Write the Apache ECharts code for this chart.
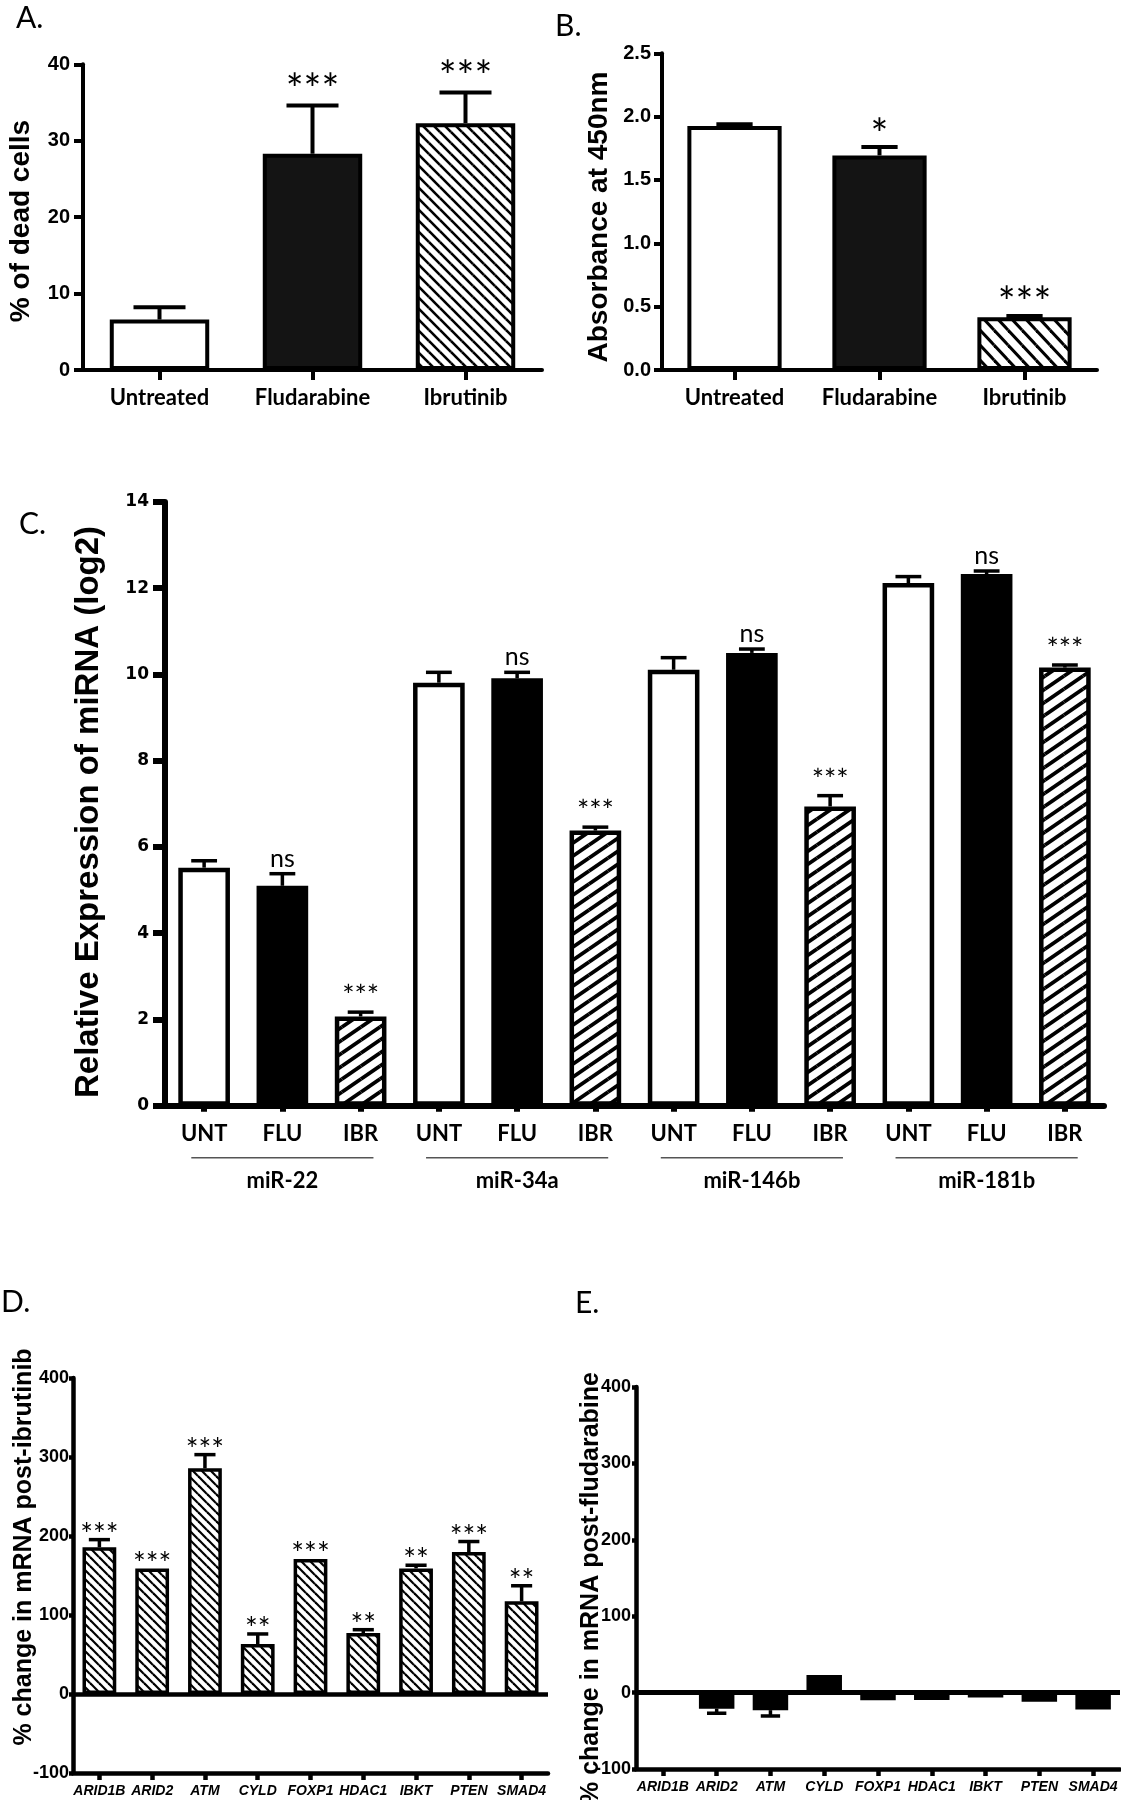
<!DOCTYPE html>
<html>
<head>
<meta charset="utf-8">
<script src="https://cdn.jsdelivr.net/npm/echarts/dist/echarts.min.js"></script>
<style>
html,body{margin:0;padding:0;background:#fff;}
#chart{width:1121px;height:1800px;}
</style>
</head>
<body>
<div id="chart"></div>
<script>
// ---------------- DATA ----------------
// Panel A – % of dead cells
const treatmentsAB = ['Untreated', 'Fludarabine', 'Ibrutinib'];
const deadCells = [6.6, 28.3, 32.3];
const deadCellsErrTop = [8.2, 34.6, 36.3];
const deadCellsSig = ['', '***', '***'];

// Panel B – absorbance at 450 nm
const absorbance = [1.926, 1.694, 0.416];
const absorbanceErrTop = [1.939, 1.76, 0.426];
const absorbanceSig = ['', '*', '***'];
const absorbanceTicks = ['0.0', '0.5', '1.0', '1.5', '2.0', '2.5'];

// Panel C – relative miRNA expression (log2)
const mirnas = ['miR-22', 'miR-34a', 'miR-146b', 'miR-181b'];
const treatmentsC = ['UNT', 'FLU', 'IBR'];
const mirUNT = [5.52, 9.81, 10.11, 12.12];
const mirUNTErrTop = [5.68, 10.05, 10.39, 12.27];
const mirFLU = [5.10, 9.91, 10.50, 12.33];
const mirFLUErrTop = [5.38, 10.05, 10.59, 12.40];
const mirIBR = [2.07, 6.38, 6.94, 10.16];
const mirIBRErrTop = [2.17, 6.46, 7.19, 10.22];
const mirUNTSig = ['', '', '', ''];
const mirFLUSig = ['ns', 'ns', 'ns', 'ns'];
const mirIBRSig = ['***', '***', '***', '***'];

// Panel D – % change in mRNA post-ibrutinib
const genes = ['ARID1B', 'ARID2', 'ATM', 'CYLD', 'FOXP1', 'HDAC1', 'IBKT', 'PTEN', 'SMAD4'];
const ibrChange = [185.7, 159, 285.7, 63.3, 170.9, 77.2, 159, 179.7, 117.3];
const ibrChangeErrEnd = [195.4, 159, 303, 76, 171, 81.4, 163, 193, 137];
const ibrChangeSig = ['***', '***', '***', '**', '***', '**', '**', '***', '**'];

// Panel E – % change in mRNA post-fludarabine
const fluChange = [0, -21, -23, 23, -10, -9.6, -6.5, -12, -22];
const fluChangeErrEnd = [0, -27, -30.6, 23, -10, -9.6, -6.5, -12, -22];
const fluChangeSig = ['', '', '', '', '', '', '', '', ''];

// ---------------- STYLE HELPERS ----------------
const LATO = 'Lato, "Open Sans", sans-serif';
const SANS = '"Liberation Sans", Arial, sans-serif';
const NARROW = '"Liberation Sans Narrow", "Liberation Sans", Arial, sans-serif';

function hatchCanvas(w, h, lw, dir) {
  const c = document.createElement('canvas');
  c.width = w; c.height = h;
  const ctx = c.getContext('2d');
  ctx.fillStyle = '#fff';
  ctx.fillRect(0, 0, w, h);
  ctx.strokeStyle = '#000';
  ctx.lineWidth = lw;
  for (let dx = -1; dx <= 1; dx++) {
    for (let dy = -1; dy <= 1; dy++) {
      ctx.beginPath();
      if (dir === 'back') {
        ctx.moveTo(dx * w, dy * h);
        ctx.lineTo(dx * w + w, dy * h + h);
      } else {
        ctx.moveTo(dx * w, dy * h + h);
        ctx.lineTo(dx * w + w, dy * h);
      }
      ctx.stroke();
    }
  }
  return c;
}
const hatchA = { image: hatchCanvas(11, 11, 2.6, 'back'), repeat: 'repeat' };
const hatchB = { image: hatchCanvas(14, 15, 3, 'back'), repeat: 'repeat' };
const hatchC = { image: hatchCanvas(19, 13, 3.8, 'fwd'), repeat: 'repeat' };
const hatchD = { image: hatchCanvas(9, 9, 2.2, 'back'), repeat: 'repeat' };

function errorRenderer(sigs, cfg) {
  return function (params, api) {
    const x = api.value(0), v = api.value(1), e = api.value(2);
    const p0 = api.coord([x, v]);
    const p1 = api.coord([x, e]);
    const band = api.size([1, 0])[0];
    const cap = band * cfg.capFrac;
    const children = [];
    if (Math.abs(p1[1] - p0[1]) > 0.5) {
      children.push({ type: 'line', shape: { x1: p0[0], y1: p0[1], x2: p1[0], y2: p1[1] },
        style: { stroke: '#000', lineWidth: cfg.lw } });
      children.push({ type: 'line', shape: { x1: p1[0] - cap / 2, y1: p1[1], x2: p1[0] + cap / 2, y2: p1[1] },
        style: { stroke: '#000', lineWidth: cfg.lw } });
    }
    const s = sigs[params.dataIndex];
    if (s) {
      const top = Math.min(p0[1], p1[1]);
      const isNs = s === 'ns';
      const gap = isNs ? cfg.nsGap : (s.length === 1 && cfg.gap1 !== undefined ? cfg.gap1 : cfg.gap);
      children.push({ type: 'text', x: p1[0], y: top - gap,
        style: { text: s, align: 'center', verticalAlign: 'middle', textAlign: 'center', textVerticalAlign: 'middle',
          font: isNs ? cfg.nsFont : cfg.font, fill: '#000' } });
    }
    return { type: 'group', children: children };
  };
}

// ---------------- BUILD C ARRAYS ----------------
const cCats = [], cVals = [], cErr = [], cSig = [], cFillIdx = [];
mirnas.forEach((m, i) => {
  treatmentsC.forEach((t, j) => {
    cCats.push(t + '|' + m);
    cVals.push([mirUNT, mirFLU, mirIBR][j][i]);
    cErr.push([mirUNTErrTop, mirFLUErrTop, mirIBRErrTop][j][i]);
    cSig.push([mirUNTSig, mirFLUSig, mirIBRSig][j][i]);
    cFillIdx.push(j);
  });
});

const fillsA = [{ color: '#fff' }, { color: '#141414' }, { color: hatchA }];
const fillsB = [{ color: '#fff' }, { color: '#141414' }, { color: hatchB }];
const fillsC = [{ color: '#fff' }, { color: '#000' }, { color: hatchC }];

function valueAxis(grid, min, max, interval, opts) {
  return {
    type: 'value', gridIndex: grid, min: min, max: max, interval: interval,
    splitLine: { show: false },
    axisLine: { show: true, onZero: false, lineStyle: { color: '#000', width: opts.lw } },
    axisTick: { show: true, length: opts.tick, lineStyle: { color: '#000', width: opts.lw } },
    axisLabel: { show: true, margin: opts.margin, color: '#000', fontFamily: opts.family, fontWeight: 'bold', fontSize: opts.size,
      formatter: opts.formatter }
  };
}
function catAxis(grid, data, opts) {
  return {
    type: 'category', gridIndex: grid, data: data,
    axisLine: { show: true, onZero: opts.onZero !== undefined ? opts.onZero : true, lineStyle: { color: '#000', width: opts.lw } },
    axisTick: { show: true, alignWithLabel: true, length: opts.tick, lineStyle: { color: '#000', width: opts.lw } },
    axisLabel: { show: true, interval: 0, margin: opts.margin, color: '#000', fontFamily: opts.family, fontWeight: 'bold',
      fontStyle: opts.italic ? 'italic' : 'normal', fontSize: opts.size, formatter: opts.formatter },
    splitLine: { show: false }
  };
}

const chart = echarts.init(document.getElementById('chart'), null, { renderer: 'canvas', width: 1121, height: 1800 });

const titleStyle = (text, font) => ({ text: text, font: font, fill: '#000', align: 'center', verticalAlign: 'middle',
  textAlign: 'center', textVerticalAlign: 'middle' });
const letterStyle = (text) => ({ text: text, font: '30px ' + LATO, fill: '#000', verticalAlign: 'middle', textVerticalAlign: 'middle' });

const option = {
  animation: false,
  backgroundColor: '#fff',
  grid: [
    { left: 83, top: 64.3, width: 459, height: 305.7, outerBoundsMode: 'none', containLabel: false },
    { left: 662, top: 53.3, width: 435, height: 316.7, outerBoundsMode: 'none', containLabel: false },
    { left: 165, top: 502, width: 939, height: 603.7, outerBoundsMode: 'none', containLabel: false },
    { left: 73, top: 1378, width: 475, height: 395, outerBoundsMode: 'none', containLabel: false },
    { left: 636, top: 1387, width: 484, height: 382, outerBoundsMode: 'none', containLabel: false }
  ],
  xAxis: [
    catAxis(0, treatmentsAB, { lw: 4, tick: 10, margin: 17, family: LATO, size: 22 }),
    catAxis(1, treatmentsAB, { lw: 4, tick: 10, margin: 17, family: LATO, size: 22 }),
    catAxis(2, cCats, { lw: 6, tick: 6, margin: 17, family: LATO, size: 22, formatter: v => v.split('|')[0] }),
    { type: 'category', gridIndex: 2, data: mirnas, show: false },
    catAxis(3, genes, { lw: 4.5, tick: 7, margin: 11, family: NARROW, size: 14, italic: true, onZero: false }),
    catAxis(4, genes, { lw: 4.5, tick: 7, margin: 11, family: NARROW, size: 14, italic: true, onZero: false })
  ],
  yAxis: [
    valueAxis(0, 0, 40, 10, { lw: 4, tick: 9, margin: 13, family: SANS, size: 20 }),
    valueAxis(1, 0, 2.5, 0.5, { lw: 4, tick: 8, margin: 11, family: SANS, size: 20,
      formatter: v => absorbanceTicks[Math.round(v / 0.5)] }),
    valueAxis(2, 0, 14, 2, { lw: 6, tick: 12, margin: 16, family: '"DejaVu Sans", sans-serif', size: 17 }),
    valueAxis(3, -100, 400, 100, { lw: 4.5, tick: 4, margin: 4, family: NARROW, size: 18 }),
    valueAxis(4, -100, 400, 100, { lw: 4.5, tick: 4, margin: 5, family: NARROW, size: 18 })
  ],
  series: [
    // ---- A ----
    { type: 'bar', xAxisIndex: 0, yAxisIndex: 0, barWidth: '65%', silent: true,
      itemStyle: { borderColor: '#000', borderWidth: 4 },
      data: deadCells.map((v, i) => ({ value: v, itemStyle: fillsA[i] })) },
    { type: 'custom', xAxisIndex: 0, yAxisIndex: 0, z: 5, silent: true,
      renderItem: errorRenderer(deadCellsSig, { capFrac: 0.34, lw: 4, gap: 15.5, nsGap: 14, font: '42px ' + LATO, nsFont: '24px ' + LATO }),
      data: deadCells.map((v, i) => [i, v, deadCellsErrTop[i]]) },
    // ---- B ----
    { type: 'bar', xAxisIndex: 1, yAxisIndex: 1, barWidth: '65%', silent: true,
      itemStyle: { borderColor: '#000', borderWidth: 4 },
      data: absorbance.map((v, i) => ({ value: v, itemStyle: fillsB[i] })) },
    { type: 'custom', xAxisIndex: 1, yAxisIndex: 1, z: 5, silent: true,
      renderItem: errorRenderer(absorbanceSig, { capFrac: 0.25, lw: 4, gap: 13, gap1: 12, nsGap: 14, font: '42px ' + LATO, nsFont: '24px ' + LATO }),
      data: absorbance.map((v, i) => [i, v, absorbanceErrTop[i]]) },
    // ---- C ----
    { type: 'bar', xAxisIndex: 2, yAxisIndex: 2, barWidth: '66%', silent: true,
      itemStyle: { borderColor: '#000', borderWidth: 4.5 },
      data: cVals.map((v, i) => ({ value: v, itemStyle: fillsC[cFillIdx[i]] })) },
    { type: 'custom', xAxisIndex: 2, yAxisIndex: 2, z: 5, silent: true,
      renderItem: errorRenderer(cSig, { capFrac: 0.33, lw: 3.5, gap: 15, nsGap: 15, font: '29px ' + LATO, nsFont: '25px ' + LATO }),
      data: cVals.map((v, i) => [i, v, cErr[i]]) },
    { type: 'custom', xAxisIndex: 3, yAxisIndex: 2, silent: true, clip: false,
      renderItem: function (params, api) {
        const p = api.coord([api.value(0), 0]);
        const band = api.size([1, 0])[0];
        return { type: 'group', children: [
          { type: 'line', shape: { x1: p[0] - band * 0.388, y1: p[1] + 52, x2: p[0] + band * 0.388, y2: p[1] + 52 },
            style: { stroke: '#555', lineWidth: 1.6 } },
          { type: 'text', x: p[0], y: p[1] + 75,
            style: { text: mirnas[params.dataIndex], align: 'center', verticalAlign: 'middle', textAlign: 'center', textVerticalAlign: 'middle',
              font: 'bold 22px ' + LATO, fill: '#000' } }
        ] };
      },
      data: mirnas.map((m, i) => [i, 0]) },
    // ---- D ----
    { type: 'bar', xAxisIndex: 4, yAxisIndex: 3, barWidth: '64%', silent: true,
      itemStyle: { color: hatchD, borderColor: '#000', borderWidth: 3.5 },
      data: ibrChange,
      markLine: { silent: true, symbol: ['none', 'none'], label: { show: false },
        lineStyle: { color: '#000', width: 4.5, type: 'solid' }, data: [{ yAxis: 0 }] } },
    { type: 'custom', xAxisIndex: 4, yAxisIndex: 3, z: 5, silent: true,
      renderItem: errorRenderer(ibrChangeSig, { capFrac: 0.4, lw: 3.5, gap: 4.5, nsGap: 10, font: '30px ' + LATO, nsFont: '22px ' + LATO }),
      data: ibrChange.map((v, i) => [i, v, ibrChangeErrEnd[i]]) },
    // ---- E ----
    { type: 'bar', xAxisIndex: 5, yAxisIndex: 4, barWidth: '66%', silent: true,
      itemStyle: { color: '#000', borderColor: '#000', borderWidth: 2 },
      data: fluChange,
      markLine: { silent: true, symbol: ['none', 'none'], label: { show: false },
        lineStyle: { color: '#000', width: 5, type: 'solid' }, data: [{ yAxis: 0 }] } },
    { type: 'custom', xAxisIndex: 5, yAxisIndex: 4, z: 5, silent: true,
      renderItem: errorRenderer(fluChangeSig, { capFrac: 0.36, lw: 3.5, gap: 6, nsGap: 10, font: '30px ' + LATO, nsFont: '22px ' + LATO }),
      data: fluChange.map((v, i) => [i, v, fluChangeErrEnd[i]]) }
  ],
  graphic: [
    { type: 'text', x: 16, y: 18, style: letterStyle('A.') },
    { type: 'text', x: 555, y: 26, style: letterStyle('B.') },
    { type: 'text', x: 19, y: 524, style: letterStyle('C.') },
    { type: 'text', x: 1, y: 1302, style: letterStyle('D.') },
    { type: 'text', x: 575, y: 1303, style: letterStyle('E.') },
    { type: 'text', x: 21, y: 221, rotation: Math.PI / 2, style: titleStyle('% of dead cells', 'bold 28px ' + SANS) },
    { type: 'text', x: 599, y: 217, rotation: Math.PI / 2, style: titleStyle('Absorbance at 450nm', 'bold 28px ' + SANS) },
    { type: 'text', x: 89, y: 812, rotation: Math.PI / 2, style: titleStyle('Relative Expression of miRNA (log2)', 'bold 33px ' + SANS) },
    { type: 'text', x: 24, y: 1547, rotation: Math.PI / 2, style: titleStyle('% change in mRNA post-ibrutinib', 'bold 25px ' + SANS) },
    { type: 'text', x: 591, y: 1588, rotation: Math.PI / 2, style: titleStyle('% change in mRNA post-fludarabine', 'bold 25px ' + SANS) }
  ]
};
chart.setOption(option);
</script>
</body>
</html>
